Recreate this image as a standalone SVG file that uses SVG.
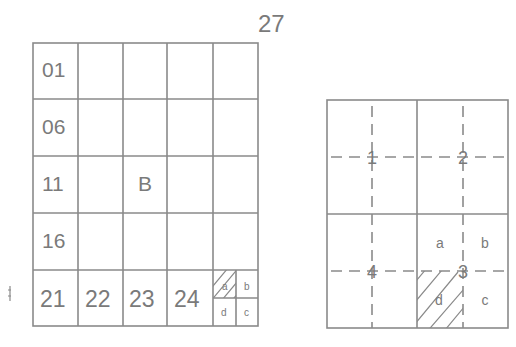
<svg xmlns="http://www.w3.org/2000/svg" width="516" height="347" viewBox="0 0 516 347">
<defs>
<style>
.ln{stroke:#8a8a8a;stroke-width:1.6;fill:none}
.ds{stroke:#8a8a8a;stroke-width:1.6;fill:none;stroke-dasharray:11,7}
.h{stroke:#8a8a8a;stroke-width:1.2}
text{font-family:"Liberation Sans",Arial,sans-serif;fill:#7a7a7a}
.big{font-size:21px}
.big2{font-size:23px}
.sm{font-size:10px}
.md{font-size:14px}
.num{font-size:18px}
</style>
<clipPath id="cpL"><rect x="213" y="270" width="23" height="28"/></clipPath>
<clipPath id="cpR"><rect x="417" y="271" width="46" height="57"/></clipPath>
</defs>
<rect width="516" height="347" fill="#ffffff"/>
<text x="258" y="32" style="font-size:24px">27</text>
<g id="leftGrid">
<rect class="ln" x="33" y="43" width="225" height="283"/>
<path class="ln" d="M78 43V326M123 43V326M167 43V326M213 43V326M33 99H258M33 156H258M33 213H258M33 270H258"/>
<path class="ln" d="M236 270V326M213 298H258"/>
<g clip-path="url(#cpL)" class="h">
<path d="M203 298L233 262M210 302L240 266M217 306L247 270M224 310L254 274"/>
</g>
<text class="big" x="42" y="77">01</text>
<text class="big" x="42" y="134">06</text>
<text class="big" x="42" y="191">11</text>
<text class="big" x="42" y="248">16</text>
<text class="big2" x="40" y="307">21</text>
<text class="big2" x="85" y="307">22</text>
<text class="big2" x="129" y="307">23</text>
<text class="big2" x="174" y="307">24</text>
<text class="big" x="138" y="191">B</text>
<text class="sm" x="222" y="290">a</text>
<text class="sm" x="244" y="290">b</text>
<text class="sm" x="221" y="316">d</text>
<text class="sm" x="244" y="316">c</text>
</g>
<g id="mark"><path class="ln" d="M10 286V301M8 290H11M8 296H11" style="stroke-width:1.2"/></g>
<g id="rightGrid">
<rect class="ln" x="327" y="100" width="181" height="228"/>
<path class="ln" d="M417 100V328M327 214H508"/>
<g clip-path="url(#cpR)" class="h">
<path d="M400 300L432 262M400 320L442 270M410 330L458 272M425 334L470 282M440 336L470 300"/>
</g>
<path class="ds" d="M372 106V328M463 106V328M331 157H505M331 271H505"/>
<text class="num" x="372" y="164" text-anchor="middle">1</text>
<text class="num" x="463" y="164" text-anchor="middle">2</text>
<text class="num" x="372" y="278" text-anchor="middle">4</text>
<text class="num" x="463" y="278" text-anchor="middle">3</text>
<text class="md" x="440" y="248" text-anchor="middle">a</text>
<text class="md" x="485" y="248" text-anchor="middle">b</text>
<text class="md" x="439" y="305" text-anchor="middle">d</text>
<text class="md" x="485" y="305" text-anchor="middle">c</text>
</g>
</svg>
